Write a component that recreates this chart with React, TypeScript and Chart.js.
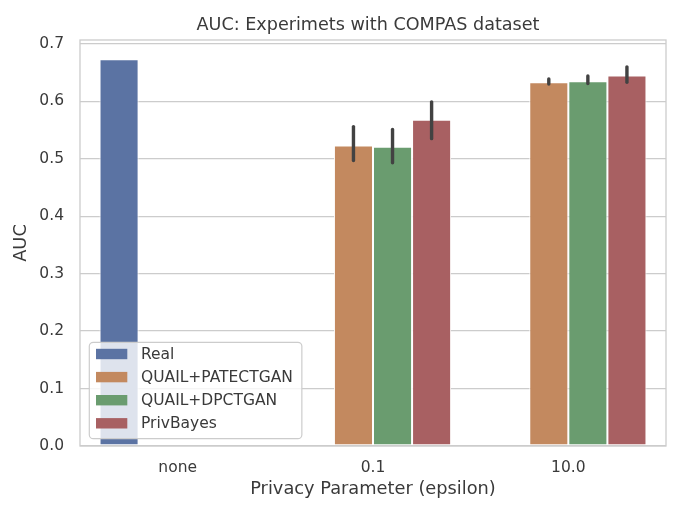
import React, { useEffect, useRef } from 'react';
import { Chart, registerables } from 'chart.js';

Chart.register(...registerables);

const categories = ['none', '0.1', '10.0'];
const seriesNames = ['Real', 'QUAIL+PATECTGAN', 'QUAIL+DPCTGAN', 'PrivBayes'];
const seriesColors = ['#5b73a3', '#c3895f', '#6a9c6f', '#a86062'];

const realAUC = [0.673, null, null];
const pateAUC = [null, 0.523, 0.633];
const dpAUC = [null, 0.521, 0.635];
const privAUC = [null, 0.568, 0.645];

const realLow = [null, null, null];
const realHigh = [null, null, null];
const pateLow = [null, 0.497, 0.630];
const pateHigh = [null, 0.556, 0.639];
const dpLow = [null, 0.493, 0.631];
const dpHigh = [null, 0.551, 0.644];
const privLow = [null, 0.535, 0.633];
const privHigh = [null, 0.599, 0.660];

const yMax = 0.7067;
const chartTitle = 'AUC: Experimets with COMPAS dataset';

const seriesValues = [realAUC, pateAUC, dpAUC, privAUC];
const errLow = [realLow, pateLow, dpLow, privLow];
const errHigh = [realHigh, pateHigh, dpHigh, privHigh];

const FONT = '"DejaVu Sans", sans-serif';
const TEXT = '#3a3a3a';
const GRID = '#cccccc';

const errorBarPlugin = {
  id: 'errorBars',
  afterDatasetsDraw(chart: any) {
    const ctx = chart.ctx;
    const y = chart.scales.y;
    ctx.save();
    ctx.strokeStyle = '#424242';
    ctx.lineWidth = 3.4;
    ctx.lineCap = 'round';
    errLow.forEach((lows, di) => {
      const meta = chart.getDatasetMeta(di);
      lows.forEach((lo, j) => {
        const hi = errHigh[di][j];
        if (lo == null || hi == null) return;
        const bar = meta.data[j];
        ctx.beginPath();
        ctx.moveTo(bar.x, y.getPixelForValue(lo));
        ctx.lineTo(bar.x, y.getPixelForValue(hi));
        ctx.stroke();
      });
    });
    const a = chart.chartArea;
    ctx.strokeStyle = GRID;
    ctx.lineWidth = 1.3;
    ctx.strokeRect(a.left, a.top, a.right - a.left, a.bottom - a.top);
    ctx.restore();
  },
};

const titlePlugin = {
  id: 'axesTitle',
  afterDraw(chart: any) {
    const ctx = chart.ctx;
    const a = chart.chartArea;
    ctx.save();
    ctx.font = `17.6px ${FONT}`;
    ctx.fillStyle = TEXT;
    ctx.textAlign = 'center';
    ctx.textBaseline = 'alphabetic';
    ctx.fillText(chartTitle, (a.left + a.right) / 2 - 5, a.top - 10);
    ctx.restore();
  },
};

const legendPlugin = {
  id: 'innerLegend',
  afterDraw(chart: any) {
    const ctx = chart.ctx;
    const a = chart.chartArea;
    const fs = 15.5;
    ctx.save();
    ctx.font = `${fs}px ${FONT}`;
    let maxW = 0;
    seriesNames.forEach((n) => {
      maxW = Math.max(maxW, ctx.measureText(n).width);
    });
    const left = a.left + 9.3;
    const bottom = a.bottom - 7.3;
    const height = 96.4;
    const top = bottom - height;
    const width = 51.7 + maxW + 9;
    ctx.fillStyle = 'rgba(255,255,255,0.8)';
    ctx.strokeStyle = GRID;
    ctx.lineWidth = 1.2;
    ctx.beginPath();
    (ctx as any).roundRect(left, top, width, height, 4);
    ctx.fill();
    ctx.stroke();
    seriesNames.forEach((n, i) => {
      const cy = top + 11.7 + i * 23.1;
      ctx.fillStyle = seriesColors[i];
      ctx.fillRect(left + 6.7, cy - 5.2, 31.3, 10.4);
      ctx.fillStyle = TEXT;
      ctx.textBaseline = 'middle';
      ctx.textAlign = 'left';
      ctx.fillText(n, left + 51.7, cy + 0.8);
    });
    ctx.restore();
  },
};

export default function App() {
  const ref = useRef<HTMLCanvasElement | null>(null);
  useEffect(() => {
    if (!ref.current) return;
    const chart = new Chart(ref.current, {
      type: 'bar',
      data: {
        labels: categories,
        datasets: seriesValues.map((vals, i) => ({
          label: seriesNames[i],
          data: vals as any,
          backgroundColor: seriesColors[i],
          borderColor: '#ffffff',
          borderWidth: 1,
          borderSkipped: false,
          categoryPercentage: 0.8,
          barPercentage: 1.0,
        })),
      },
      options: {
        responsive: false,
        animation: false,
        devicePixelRatio: 1,
        layout: { padding: { left: 0, right: 14, top: 40, bottom: 0 } },
        plugins: {
          legend: { display: false },
          tooltip: { enabled: false },
          title: { display: false },
        },
        scales: {
          x: {
            grid: { display: false, drawTicks: false },
            border: { display: false },
            ticks: {
              color: TEXT,
              font: { family: FONT, size: 15.5 },
              padding: 13,
            },
            title: {
              display: true,
              text: 'Privacy Parameter (epsilon)',
              color: TEXT,
              font: { family: FONT, size: 17.8 },
              padding: { top: 0, bottom: 10 },
            },
            afterFit(scale: any) {
              scale.height = 64;
            },
          },
          y: {
            min: 0,
            max: yMax,
            grid: { color: GRID, lineWidth: 1.3, drawTicks: false },
            border: { display: false },
            ticks: {
              stepSize: 0.1,
              includeBounds: false,
              color: TEXT,
              font: { family: FONT, size: 15.5 },
              padding: 16,
              callback: (v: any) => Number(v).toFixed(1),
            },
            title: {
              display: true,
              text: 'AUC',
              color: TEXT,
              font: { family: FONT, size: 17.8 },
              padding: { top: 11, bottom: 0 },
            },
            afterFit(scale: any) {
              scale.width = 80;
            },
          },
        },
      },
      plugins: [errorBarPlugin, titlePlugin, legendPlugin],
    });
    return () => chart.destroy();
  }, []);
  return (
    <div style={{ position: 'fixed', left: 0, top: 0, width: 680, height: 510, background: '#ffffff' }}>
      <canvas ref={ref} width={680} height={510} style={{ width: 680, height: 510 }} />
    </div>
  );
}
